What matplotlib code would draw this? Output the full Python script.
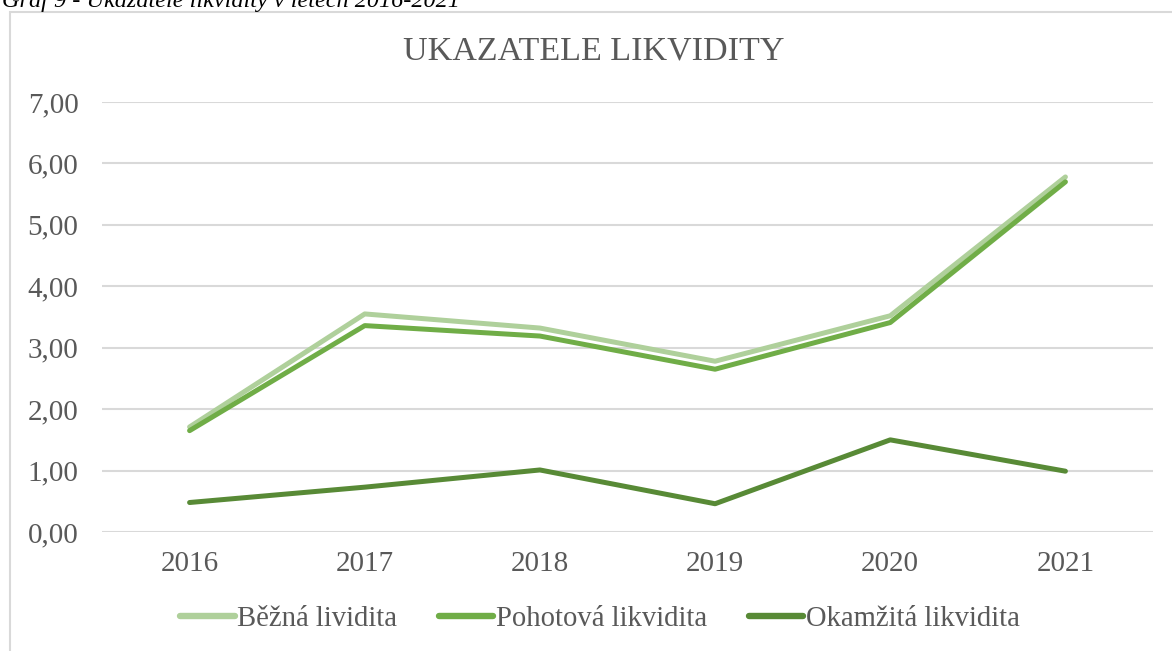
import matplotlib.pyplot as plt
from matplotlib.patches import Rectangle

# data
years = ["2016", "2017", "2018", "2019", "2020", "2021"]
bezna = [1.71, 3.55, 3.32, 2.78, 3.52, 5.78]
pohotova = [1.65, 3.36, 3.19, 2.65, 3.41, 5.70]
okamzita = [0.48, 0.73, 1.01, 0.46, 1.50, 0.99]

series_names = ["Běžná lividita", "Pohotová likvidita", "Okamžitá likvidita"]
colors = ["#AFD09B", "#70AD47", "#588A36"]
yticks = [0, 1, 2, 3, 4, 5, 6, 7]

plt.rcParams["font.family"] = ["Liberation Serif", "DejaVu Serif"]
text_color = "#595959"

fig = plt.figure(figsize=(11.72, 6.51), dpi=100)
ax = fig.add_axes([102 / 1172, 1 - 532 / 651, (1153 - 102) / 1172, (532 - 102) / 651])

# outer chart frame (top and left edges show, the rest is cut off)
fig.patches.append(Rectangle((10 / 1172, -0.1), 1.2, (651 - 12) / 651 + 0.1,
                             transform=fig.transFigure, fill=False,
                             edgecolor="#D9D9D9", lw=1.5))

x = range(len(years))
for vals, name, c in zip([bezna, pohotova, okamzita], series_names, colors):
    ax.plot(x, vals, color=c, lw=3.6, solid_capstyle="round",
            solid_joinstyle="round", label=name)

ax.set_xlim(-0.5, len(years) - 0.5)
ax.set_ylim(0, 7)
ax.set_xticks(list(x))
ax.set_xticklabels(years)
ax.set_yticks(yticks)
ax.set_yticklabels([f"{v:.2f}".replace(".", ",") for v in yticks])
ax.tick_params(length=0, labelsize=21, labelcolor=text_color)
ax.tick_params(axis="x", pad=14)
ax.tick_params(axis="y", pad=17)
ax.grid(axis="y", color="#D9D9D9", lw=1.5)
ax.set_axisbelow(True)
for s in ax.spines.values():
    s.set_visible(False)

fig.text(594 / 1172, 1 - 51 / 651, "UKAZATELE LIKVIDITY", ha="center", va="center",
         fontsize=24.5, color=text_color)

# caption above the chart, cut off at the top edge like in the source
fig.text(2 / 1172, 1 - 7 / 651, "Graf 9 - Ukazatele likvidity v letech 2016-2021",
         ha="left", va="baseline", fontsize=17.5, style="italic", color="black")

leg = fig.legend(loc="center", bbox_to_anchor=(600 / 1172, 1 - 619 / 651), ncol=3,
                 frameon=False, fontsize=20.6, handlelength=1.9, handletextpad=0.1,
                 columnspacing=1.45, labelcolor=text_color)
for line in leg.get_lines():
    line.set_linewidth(4.6)
    line.set_solid_capstyle("round")

fig.savefig("out.png", dpi=100)
